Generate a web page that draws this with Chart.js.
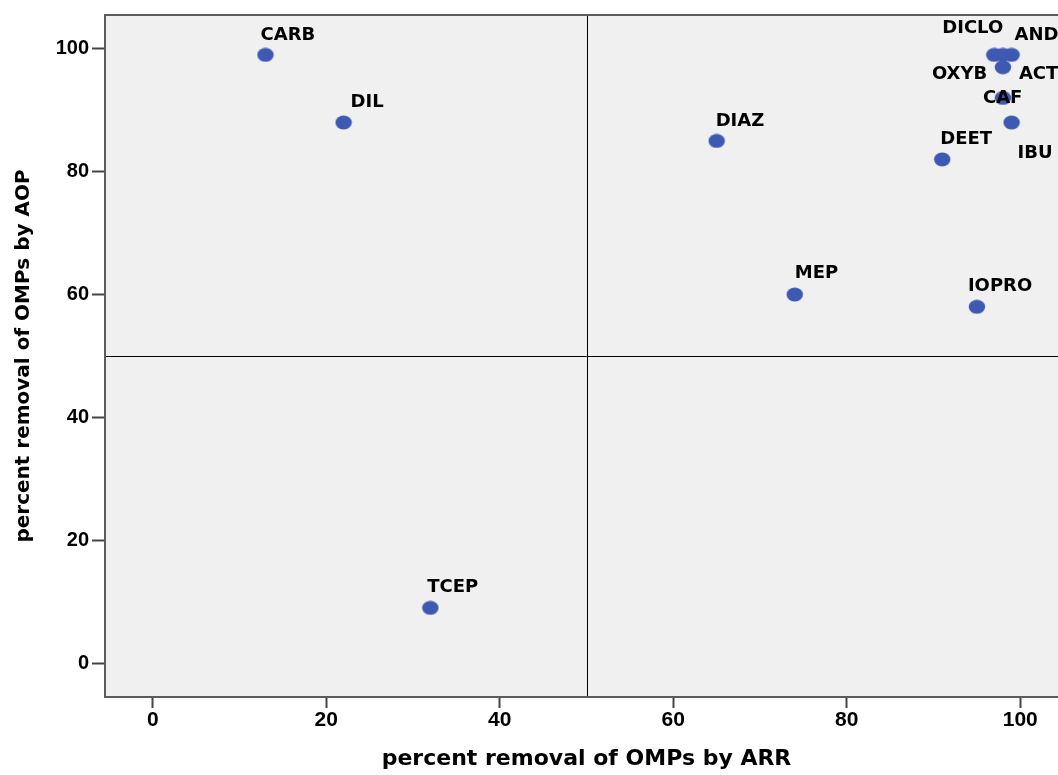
<!DOCTYPE html>
<html>
<head>
<meta charset="utf-8">
<script src="https://cdn.jsdelivr.net/npm/chart.js@4/dist/chart.umd.min.js"></script>
<style>
  html, body { margin: 0; padding: 0; background: #ffffff; overflow: hidden; }
  #wrap { width: 1058px; height: 775px; overflow: hidden; }
  canvas { display: block; }
</style>
</head>
<body>
<div id="wrap"><canvas id="chart" width="1080" height="775"></canvas></div>
<script>
// Compound abbreviations and their removal percentages by the two processes
const compounds  = ['CARB', 'DIL', 'TCEP', 'DIAZ', 'MEP', 'IOPRO', 'DEET', 'IBU', 'CAF', 'DICLO', 'AND', 'OXYB', 'ACT'];
const removalARR = [13, 22, 32, 65, 74, 95, 91, 99, 98, 97, 99, 98, 98];
const removalAOP = [99, 88, 9, 85, 60, 58, 82, 88, 92, 99, 99, 99, 97];

// Axis ticks and the 50 % dividing lines
const tickValues = [0, 20, 40, 60, 80, 100];
const dividerARR = 50;
const dividerAOP = 50;

// Label placement (pixel offset of the text's left edge / middle from its marker)
const labelOffsets = [
  [-5, -20], [7, -20], [-3, -21], [-1, -20], [0, -21], [-9, -21], [-2, -20],
  [6, 31], [-20, 0], [-52, -27], [3, -20], [-71, 19], [16, 7]
];

const AXIS_FONT = 'DejaVu Sans';
const TICK_FONT = 'Liberation Sans';

// Slightly wide elliptical marker
function makeMarker() {
  const c = document.createElement('canvas');
  c.width = 18; c.height = 15;
  const g = c.getContext('2d');
  g.fillStyle = '#3d59b2';
  g.beginPath();
  g.ellipse(9, 7.5, 8.2, 7, 0, 0, Math.PI * 2);
  g.fill();
  return c;
}

const points = removalARR.map((x, i) => ({ x: x, y: removalAOP[i] }));

const framePlugin = {
  id: 'frame',
  beforeDraw(chart) {
    const { ctx, chartArea: a } = chart;
    ctx.save();
    ctx.fillStyle = '#f0f0f0';
    ctx.fillRect(a.left, a.top, a.right - a.left, a.bottom - a.top);
    ctx.restore();
  },
  beforeDatasetsDraw(chart) {
    const { ctx, chartArea: a, scales } = chart;
    ctx.save();
    ctx.strokeStyle = '#000000';
    ctx.lineWidth = 1;
    const px = Math.round(scales.x.getPixelForValue(dividerARR)) + 0.5;
    const py = Math.round(scales.y.getPixelForValue(dividerAOP)) + 0.5;
    ctx.beginPath();
    ctx.moveTo(px, a.top); ctx.lineTo(px, a.bottom);
    ctx.moveTo(a.left, py); ctx.lineTo(a.right, py);
    ctx.stroke();
    ctx.strokeStyle = '#5c5c5c';
    ctx.lineWidth = 2;
    ctx.strokeRect(a.left, a.top, a.right - a.left, a.bottom - a.top);
    ctx.restore();
  },
  afterDatasetsDraw(chart) {
    const { ctx } = chart;
    const meta = chart.getDatasetMeta(0);
    ctx.save();
    ctx.font = 'bold 18px "' + AXIS_FONT + '"';
    ctx.fillStyle = '#000000';
    ctx.textAlign = 'left';
    ctx.textBaseline = 'middle';
    meta.data.forEach((el, i) => {
      const off = labelOffsets[i];
      ctx.fillText(compounds[i], el.x + off[0], el.y + off[1]);
    });
    ctx.restore();
  }
};

new Chart(document.getElementById('chart'), {
  type: 'scatter',
  data: {
    datasets: [{
      data: points,
      pointStyle: makeMarker(),
      pointRadius: 8,
      pointHoverRadius: 8
    }]
  },
  options: {
    responsive: false,
    animation: false,
    events: [],
    layout: { padding: { top: 14, right: 12, left: 0, bottom: 0 } },
    plugins: { legend: { display: false }, tooltip: { enabled: false } },
    scales: {
      x: {
        type: 'linear',
        min: -5.5,
        max: 105.5,
        afterFit(scale) { scale.height = 78; },
        afterBuildTicks(scale) { scale.ticks = tickValues.map(v => ({ value: v })); },
        border: { display: false },
        grid: { display: true, drawOnChartArea: false, drawTicks: true, tickLength: 11, tickColor: '#444444', tickWidth: 2 },
        ticks: { padding: 0, color: '#000000', font: { family: TICK_FONT, size: 21, weight: 'bold' }, maxRotation: 0 },
        title: {
          display: true,
          text: 'percent removal of OMPs by ARR',
          color: '#000000',
          font: { family: AXIS_FONT, size: 22, weight: 'bold' },
          padding: { top: 0, bottom: 3 }
        }
      },
      y: {
        type: 'linear',
        min: -5.5,
        max: 105.5,
        afterFit(scale) { scale.width = 105; },
        afterBuildTicks(scale) { scale.ticks = tickValues.map(v => ({ value: v })); },
        border: { display: false },
        grid: { display: true, drawOnChartArea: false, drawTicks: true, tickLength: 13, tickColor: '#444444', tickWidth: 2 },
        ticks: { padding: 3, color: '#000000', font: { family: TICK_FONT, size: 20, weight: 'bold' } },
        title: {
          display: true,
          text: 'percent removal of OMPs by AOP',
          color: '#000000',
          font: { family: AXIS_FONT, size: 20, weight: 'bold' },
          padding: { top: 12, bottom: 0 }
        }
      }
    }
  },
  plugins: [framePlugin]
});
</script>
</body>
</html>
